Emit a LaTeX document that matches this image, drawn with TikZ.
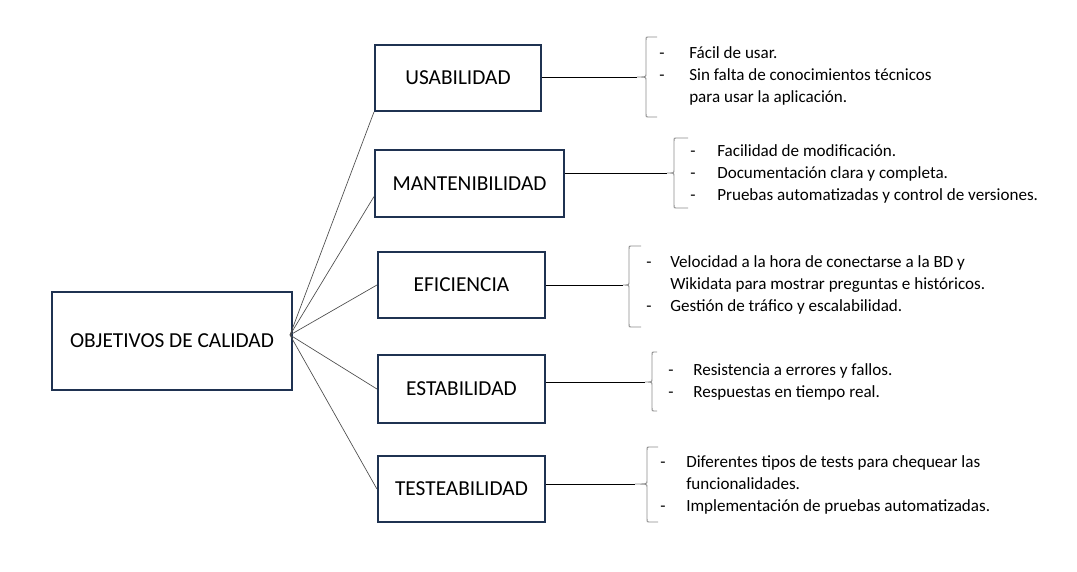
\documentclass[tikz,border=0pt]{standalone}
\usepackage{fontspec}
\setmainfont{Carlito}
\usetikzlibrary{calc}

\definecolor{boxnavy}{HTML}{1F3251}

\tikzset{
  qualbox/.style={draw=boxnavy, line width=1.6pt, inner sep=0pt, font=\fontsize{16}{19}\selectfont},
  fanline/.style={draw=black!70, line width=0.5pt},
  tipline/.style={draw=black, line width=0.6pt},
  curly/.style={draw=black!45, line width=0.7pt},
  dashtext/.style={anchor=base west, inner sep=0pt, font=\fontsize{12.8}{16.5}\selectfont},
}

% list with a dash column of given width
\newcommand{\dashlist}[2]{\begin{tabular}[t]{@{}p{#1}@{}l@{}}#2\end{tabular}}
% left brace: x, top, tip y, bottom, hook, tip depth, name of tip
\newcommand{\wordbrace}[7]{%
  \draw[curly] (#1+#5,#2) -- (#1+2,#2) .. controls (#1,#2) .. (#1,#2+3)
    -- (#1,#3-3) .. controls (#1,#3) .. (#1-#6,#3)
    .. controls (#1,#3) .. (#1,#3+3) -- (#1,#4-3)
    .. controls (#1,#4) .. (#1+2,#4) -- (#1+#5,#4);
  \coordinate (#7) at (#1-#6,#3);}

\begin{document}
\begin{tikzpicture}[x=0.75pt, y=-0.75pt]
    \useasboundingbox (0,0) rectangle (1077,571);

    % boxes
    \node[qualbox, minimum width=180pt, minimum height=73.5pt] (goal) at (172,341) {OBJETIVOS DE CALIDAD};
    \node[qualbox, minimum width=124.5pt, minimum height=49.5pt] (usa) at (458,78) {USABILIDAD};
    \node[qualbox, minimum width=141.75pt, minimum height=50.25pt] (man) at (469.5,183.5) {MANTENIBILIDAD};
    \node[qualbox, minimum width=125.25pt, minimum height=49.5pt] (eff) at (461.5,285) {EFICIENCIA};
    \node[qualbox, minimum width=125.25pt, minimum height=51pt] (est) at (461.5,389) {ESTABILIDAD};
    \node[qualbox, minimum width=125.25pt, minimum height=49.5pt] (tes) at (461.5,489) {TESTEABILIDAD};

    % fan from the main box
    \coordinate (hub) at (290,335);
    \draw[fanline] (hub) -- (usa.south west);
    \draw[fanline] (hub) -- ($(man.south west)!0.31!(man.north west)$);
    \draw[fanline] (hub) -- (eff.west);
    \draw[fanline] (hub) -- (est.west);
    \draw[fanline] (hub) -- (tes.west);

    % braces
    \wordbrace{646}{37}{77}{117}{11}{9}{usatip}
    \wordbrace{674}{138}{173}{208}{14}{7}{mantip}
    \wordbrace{629}{246}{285}{327}{12}{6}{efftip}
    \wordbrace{652}{352}{382}{411}{5}{7}{esttip}
    \wordbrace{647}{447}{484}{522}{11}{12}{testip}

    \draw[tipline] (usa.east |- usatip) -- (usatip);
    \draw[tipline] (man.east |- mantip) -- (mantip);
    \draw[tipline] (eff.east |- efftip) -- (efftip);
    \draw[tipline] (est.east |- esttip) -- (esttip);
    \draw[tipline] (tes.east |- testip) -- (testip);

    % lists
    \node[dashtext] (usalist) at (659,58) {\dashlist{22.5pt}{- & Fácil de usar.\\ - & Sin falta de conocimientos técnicos\\ & para usar la aplicación.}};
    \node[dashtext] (manlist) at (690,156) {\dashlist{20.25pt}{- & Facilidad de modificación.\\ - & Documentación clara y completa.\\ - & Pruebas automatizadas y control de versiones.}};
    \node[dashtext] (efflist) at (646,267) {\dashlist{18pt}{- & Velocidad a la hora de conectarse a la BD y\\ & Wikidata para mostrar preguntas e históricos.\\ - & Gestión de tráfico y escalabilidad.}};
    \node[dashtext] (estlist) at (668,375) {\dashlist{18.75pt}{- & Resistencia a errores y fallos.\\ - & Respuestas en tiempo real.}};
    \node[dashtext] (teslist) at (660,467) {\dashlist{19.5pt}{- & Diferentes tipos de tests para chequear las\\ & funcionalidades.\\ - & Implementación de pruebas automatizadas.}};
\end{tikzpicture}
\end{document}
